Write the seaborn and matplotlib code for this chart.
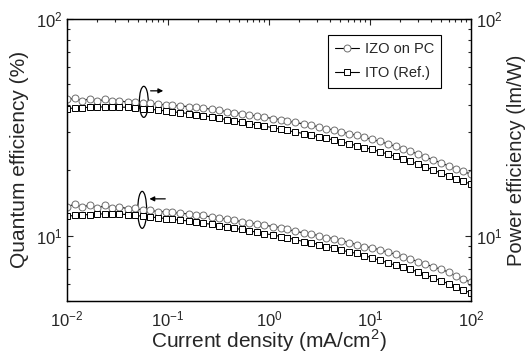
import matplotlib
matplotlib.use("Agg")
import matplotlib.pyplot as plt
import pandas as pd
import seaborn as sns
from matplotlib.patches import Ellipse
from matplotlib.ticker import LogLocator, NullFormatter

current_density = [0.010, 0.012, 0.014, 0.017, 0.020, 0.024, 0.028, 0.033, 0.040, 0.047,
                   0.056, 0.067, 0.080, 0.095, 0.11, 0.13, 0.16, 0.19, 0.22, 0.27,
                   0.32, 0.38, 0.45, 0.54, 0.64, 0.76, 0.90, 1.1, 1.3, 1.5,
                   1.8, 2.2, 2.6, 3.1, 3.7, 4.4, 5.2, 6.2, 7.4, 8.8,
                   10.5, 12.5, 15, 18, 21, 25, 30, 35, 42, 50,
                   60, 71, 84, 100]

# power efficiency (lm/W), upper pair of curves
pe_izo = [42.5, 43.0, 42.0, 42.8, 41.8, 42.6, 41.6, 42.0, 41.2, 41.5,
          40.8, 40.9, 40.3, 40.2, 39.9, 39.7, 39.4, 39.1, 38.8, 38.3,
          37.9, 37.4, 37.0, 36.5, 36.1, 35.6, 35.2, 34.7, 34.3, 33.8,
          33.3, 32.8, 32.3, 31.8, 31.2, 30.7, 30.1, 29.6, 29.0, 28.4,
          27.8, 27.2, 26.5, 25.8, 25.2, 24.5, 23.8, 23.1, 22.4, 21.7,
          21.0, 20.4, 19.8, 19.2]
pe_ito = [38.6, 38.8, 39.0, 39.1, 39.2, 39.3, 39.3, 39.2, 39.1, 38.9,
          38.6, 38.3, 38.0, 37.6, 37.3, 37.0, 36.6, 36.2, 35.8, 35.3,
          34.8, 34.3, 33.9, 33.4, 32.9, 32.4, 32.0, 31.5, 31.0, 30.6,
          30.1, 29.6, 29.1, 28.6, 28.1, 27.6, 27.1, 26.6, 26.0, 25.5,
          25.0, 24.4, 23.8, 23.2, 22.6, 22.0, 21.4, 20.8, 20.1, 19.5,
          18.9, 18.3, 17.8, 17.3]

# quantum efficiency (%), lower pair of curves
qe_izo = [13.6, 14.0, 13.5, 13.9, 13.4, 13.8, 13.4, 13.6, 13.3, 13.4,
          13.1, 13.1, 12.9, 12.9, 12.8, 12.7, 12.6, 12.5, 12.4, 12.2,
          12.1, 11.9, 11.8, 11.6, 11.5, 11.3, 11.2, 11.0, 10.9, 10.7,
          10.5, 10.3, 10.2, 10.0, 9.8, 9.7, 9.5, 9.3, 9.1, 8.9,
          8.8, 8.6, 8.4, 8.2, 8.0, 7.8, 7.6, 7.4, 7.2, 7.0,
          6.8, 6.5, 6.3, 6.1]
qe_ito = [12.3, 12.4, 12.5, 12.5, 12.6, 12.6, 12.6, 12.6, 12.5, 12.4,
          12.3, 12.2, 12.1, 12.0, 11.9, 11.8, 11.7, 11.6, 11.4, 11.3,
          11.1, 11.0, 10.8, 10.7, 10.5, 10.4, 10.2, 10.1, 9.9, 9.8,
          9.6, 9.4, 9.3, 9.1, 8.9, 8.8, 8.6, 8.4, 8.3, 8.1,
          7.9, 7.7, 7.5, 7.3, 7.2, 7.0, 6.8, 6.6, 6.4, 6.2,
          6.0, 5.8, 5.6, 5.45]

labels = ["IZO on PC", "ITO (Ref.)"]

sns.set_style("white")
plt.rcParams["font.family"] = ["Liberation Sans", "DejaVu Sans"]
plt.rcParams["mathtext.fontset"] = "custom"
plt.rcParams["mathtext.rm"] = "Liberation Sans"

fig = plt.figure(figsize=(5.28, 3.57), dpi=100)
ax = fig.add_axes([0.127, 0.157, 0.765, 0.79])

styles = {
    "IZO on PC": dict(marker="o", mec="#6e6e6e"),
    "ITO (Ref.)": dict(marker="s", mec="black"),
}

def draw(ax, x, y, label, show_label):
    df = pd.DataFrame({"x": x, "y": y})
    sns.lineplot(data=df, x="x", y="y", ax=ax, color="black", lw=0.8,
                 marker=styles[label]["marker"], markersize=5,
                 markerfacecolor="white", markeredgecolor=styles[label]["mec"],
                 markeredgewidth=0.7, label=label if show_label else None,
                 legend=False)

draw(ax, current_density, qe_izo, labels[0], True)
draw(ax, current_density, qe_ito, labels[1], True)

ax2 = ax.twinx()
draw(ax2, current_density, pe_izo, labels[0], False)
draw(ax2, current_density, pe_ito, labels[1], False)

for a in (ax, ax2):
    a.set_xscale("log")
    a.set_yscale("log")
    a.set_xlim(1e-2, 1e2)
    a.set_ylim(5, 100)
    a.yaxis.set_minor_formatter(NullFormatter())
    a.tick_params(which="both", direction="in", labelsize=12, width=0.8)
    a.tick_params(which="major", length=4)
    a.tick_params(which="minor", length=2.5)
    a.set_xlabel("")

ax.xaxis.set_major_locator(LogLocator(base=10, numticks=10))
ax.xaxis.set_minor_locator(LogLocator(base=10, subs=range(2, 10), numticks=10))
ax.tick_params(which="both", top=True)
ax.tick_params(axis="x", pad=6)
ax.set_xlabel("Current density (mA/cm$^2$)", fontsize=15, labelpad=-1)
ax.set_ylabel("Quantum efficiency (%)", fontsize=15, labelpad=5)
ax2.set_ylabel("Power efficiency (lm/W)", fontsize=14.5, labelpad=3)

for a in (ax, ax2):
    for s in a.spines.values():
        s.set_color("black")
        s.set_linewidth(0.9)

# ellipses and arrows marking which axis each pair belongs to
ax.add_patch(Ellipse((0.19, 0.706), 0.022, 0.11, transform=ax.transAxes,
                     fill=False, ec="black", lw=0.9))
ax.annotate("", xy=(0.245, 0.745), xytext=(0.2, 0.745), xycoords="axes fraction",
            arrowprops=dict(arrowstyle="-|>", color="black", lw=0.9, mutation_scale=7))
ax.add_patch(Ellipse((0.186, 0.323), 0.022, 0.131, transform=ax.transAxes,
                     fill=False, ec="black", lw=0.9))
ax.annotate("", xy=(0.197, 0.362), xytext=(0.25, 0.362), xycoords="axes fraction",
            arrowprops=dict(arrowstyle="-|>", color="black", lw=0.9, mutation_scale=7))

leg = ax.legend(loc="upper right", bbox_to_anchor=(0.926, 0.943), fontsize=10.5,
                frameon=True, fancybox=False, edgecolor="black", framealpha=1,
                handlelength=1.6, borderpad=0.5, labelspacing=0.7, numpoints=1,
                handletextpad=0.4, borderaxespad=0)
leg.get_frame().set_linewidth(0.8)

fig.savefig("out.png", dpi=100)
